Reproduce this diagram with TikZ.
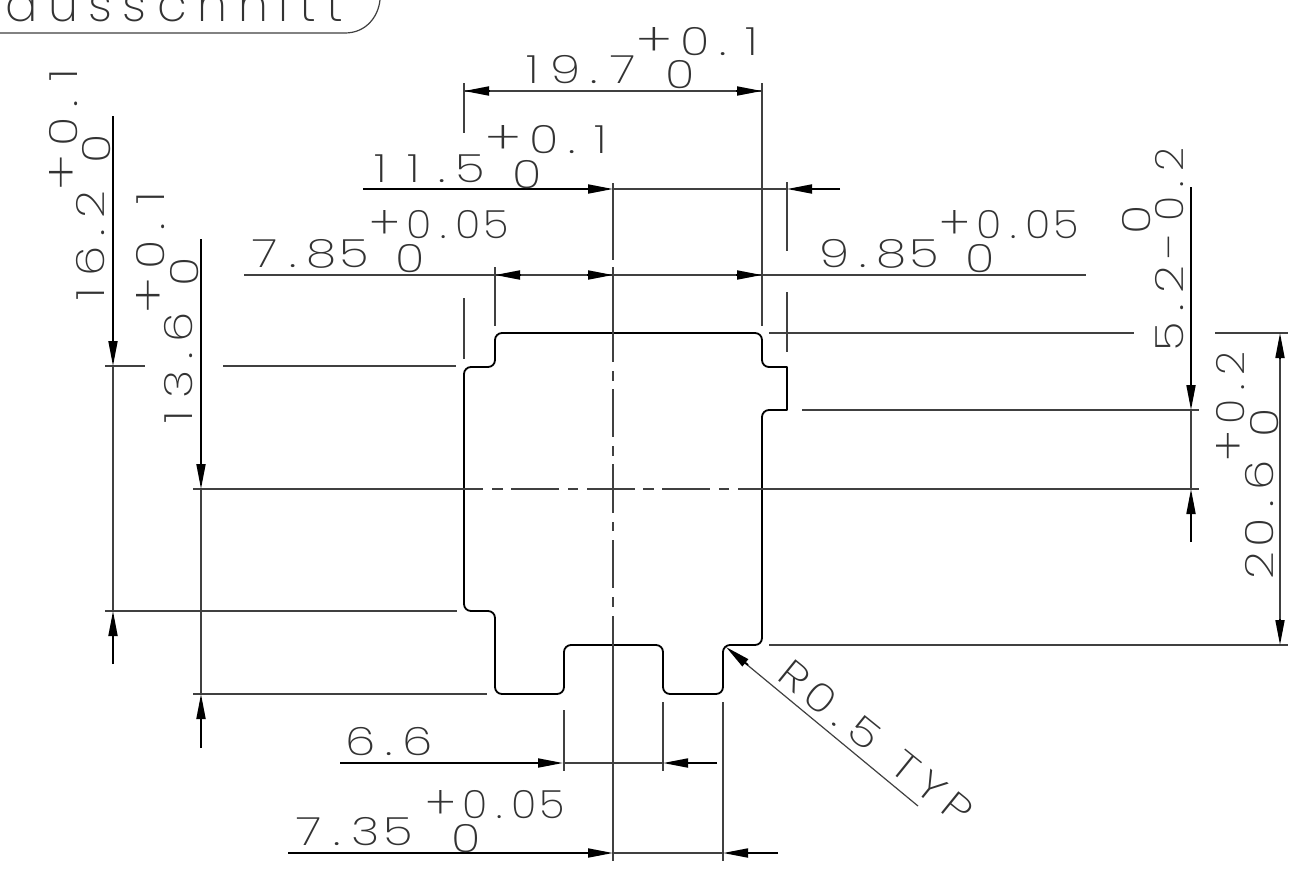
\documentclass[tikz,border=0pt]{standalone}
\usepackage{fontspec}
\usetikzlibrary{arrows.meta}
\newfontfamily\cadfont[FakeStretch=1.25]{Poppins ExtraLight}
\newfontfamily\cadbig[LetterSpace=22]{Poppins ExtraLight}
% each character of a dimension sits in a cell of fixed width, as in a CAD stroke font
\def\cadcell#1{\ifx#1.\makebox[24pt][c]{.}\else\ifx#1+\makebox[47pt][c]{\raisebox{-1pt}{\scalebox{1.18}{+}}}\else\ifx#1−\makebox[46pt][c]{\scalebox{1.3}[1]{−}\hspace{10pt}}\else\ifx#1~\makebox[20pt][c]{ }\else\makebox[33pt][c]{#1}\fi\fi\fi\fi}
\def\cadscan#1{\ifx#1\cadend\else\cadcell{#1}\expandafter\cadscan\fi}
\newcommand{\cad}[1]{\cadscan#1\cadend}
\newcommand{\cadn}[1]{\scalebox{.86}[1]{\cad{#1}}}
\tikzset{
  x=1pt,y=-1pt,
  outline/.style={line width=1.8pt,black,line join=round},
  thinln/.style={line width=1.2pt,black!75},
  thickln/.style={line width=1.8pt,black},
  tip/.style={-{Triangle[length=25pt,width=9pt,fill=black]}},
  dimtext/.style={font=\cadfont\fontsize{39}{39}\selectfont,inner sep=0pt,anchor=base west,text=black!80},
  bigtext/.style={font=\cadbig\fontsize{48}{48}\selectfont,inner sep=0pt,anchor=base west,text=black!80},
}
\begin{document}
\begin{tikzpicture}
\useasboundingbox (0,0) rectangle (1306,876);
\path[fill=white] (0,0) rectangle (1306,876);

% label box
\draw[thinln] (0,33) -- (345,33) .. controls (365,33) and (378,18) .. (380,0);
\node[bigtext] (titel) at (5,21) {ausschnitt};

% part outline
\draw[outline,rounded corners=7pt]
  (620,333) -- (762,333) -- (762,367) -- (775,367) [sharp corners] -- (787,367) -- (787,410) -- (775,410) [rounded corners=7pt] -- (762,410)
  -- (762,645) -- (723,645) -- (723,694) -- (663,694) -- (663,645) -- (564,645) -- (564,694) -- (495,694)
  -- (495,611) -- (464,611) -- (464,367) -- (495,367) -- (495,333) -- (620,333);

% centre lines
\foreach \a/\b in {193/483,492/503,511/559,568/578,587/635,643/654,662/710,719/729,738/1199}
  \draw[thinln] (\a,489) -- (\b,489);
\foreach \a/\b in {183/260,267/362,371/381,389/437,446/456,464/513,522/531,540/588,597/607,616/861}
  \draw[thinln] (613,\a) -- (613,\b);

% extension lines
\draw[thinln] (464,83) -- (464,133);
\draw[thinln] (464,298) -- (464,359);
\draw[thinln] (495,267) -- (495,326);
\draw[thinln] (762,83) -- (762,326);
\draw[thinln] (787,182) -- (787,251);
\draw[thinln] (787,292) -- (787,352);
\draw[thinln] (769,333) -- (1134,333);
\draw[thinln] (1215,333) -- (1288,333);
\draw[thinln] (769,645) -- (1288,645);
\draw[thinln] (802,410) -- (1199,410);
\draw[thinln] (105,366) -- (145,366);
\draw[thinln] (223,366) -- (456,366);
\draw[thinln] (105,611) -- (457,611);
\draw[thinln] (193,694) -- (487,694);
\draw[thinln] (564,710) -- (564,771);
\draw[thinln] (663,702) -- (663,771);
\draw[thinln] (723,702) -- (723,861);

% 19.7
\draw[thinln] (464,91) -- (762,91);
\draw[thickln,tip] (490,91) -- (464,91);
\draw[thickln,tip] (736,91) -- (762,91);
% 11.5
\draw[thickln,tip] (363,189) -- (613,189);
\draw[thinln] (613,189) -- (787,189);
\draw[thickln,tip] (840,189) -- (787,189);
% 7.85 / 9.85
\draw[thinln] (244,275) -- (1086,275);
\draw[thickln,tip] (521,275) -- (495,275);
\draw[thickln,tip] (587,275) -- (613,275);
\draw[thickln,tip] (736,275) -- (762,275);
% 16.2
\draw[thickln,tip] (113,116) -- (113,366);
\draw[thinln] (113,366) -- (113,611);
\draw[thickln,tip] (113,664) -- (113,611);
% 13.6
\draw[thickln,tip] (201,239) -- (201,489);
\draw[thinln] (201,489) -- (201,694);
\draw[thickln,tip] (201,748) -- (201,694);
% 5.2
\draw[thickln,tip] (1191,187) -- (1191,410);
\draw[thinln] (1191,410) -- (1191,489);
\draw[thickln,tip] (1191,542) -- (1191,489);
% 20.6
\draw[thinln] (1280,345) -- (1280,634);
\draw[thickln,tip] (1280,359) -- (1280,333);
\draw[thickln,tip] (1280,619) -- (1280,645);
% 6.6
\draw[thickln,tip] (340,763) -- (563,763);
\draw[thinln] (563,763) -- (663,763);
\draw[thickln,tip] (717,763) -- (663,763);
% 7.35
\draw[thickln,tip] (288,853) -- (613,853);
\draw[thinln] (613,853) -- (723,853);
\draw[thickln,tip] (778,853) -- (723,853);
% R0.5
\draw[thinln] (918,806) -- (745,663);
\draw[thickln,tip] (748,665) -- (726,647);

% dimension texts
\node[dimtext] (a1) at (516,83) {\cad{19.7}};
\node[dimtext] (a2) at (631,55) {\cad{+0.1}};
\node[dimtext] (a3) at (663,88) {\cad{0}};
\node[dimtext] (b1) at (364,182) {\cad{11.5}};
\node[dimtext] (b2) at (480,153) {\cad{+0.1}};
\node[dimtext] (b3) at (510,188) {\cad{0}};
\node[dimtext] (c1) at (248,267) {\cad{7.85}};
\node[dimtext] (c2) at (364,238) {\cadn{+0.05}};
\node[dimtext] (c3) at (393,272) {\cad{0}};
\node[dimtext] (d1) at (818,267) {\cad{9.85}};
\node[dimtext] (d2) at (934,238) {\cadn{+0.05}};
\node[dimtext] (d3) at (963,272) {\cad{0}};
\node[dimtext] (e1) at (344,755) {\cad{6.6}};
\node[dimtext] (f1) at (292,845) {\cad{7.35}};
\node[dimtext] (f2) at (420,818) {\cadn{+0.05}};
\node[dimtext] (f3) at (449,852) {\cad{0}};
\node[dimtext,rotate=90] (g1) at (104,311) {\cad{16.2}};
\node[dimtext,rotate=90] (g2) at (77,196) {\cad{+0.1}};
\node[dimtext,rotate=90] (g3) at (110,166) {\cad{0}};
\node[dimtext,rotate=90] (h1) at (192,434) {\cad{13.6}};
\node[dimtext,rotate=90] (h2) at (164,319) {\cad{+0.1}};
\node[dimtext,rotate=90] (h3) at (198,289) {\cad{0}};
\node[dimtext,rotate=90] (i1) at (1183,353) {\cad{5.2}\cadn{−0.2}};
\node[dimtext,rotate=90] (i2) at (1150,237) {\cad{0}};
\node[dimtext,rotate=90] (j1) at (1273,582) {\cad{20.6}};
\node[dimtext,rotate=90] (j2) at (1244,467) {\cadn{+0.2}};
\node[dimtext,rotate=90] (j3) at (1278,440) {\cad{0}};
\node[dimtext,rotate=-39] (k1) at (773,677) {\cad{R0.5~TYP}};
\end{tikzpicture}
\end{document}
